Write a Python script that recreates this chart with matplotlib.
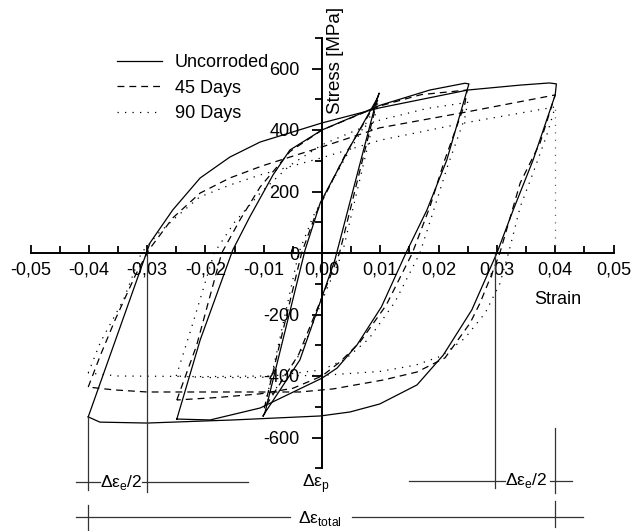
import matplotlib
matplotlib.use('Agg')
import matplotlib.pyplot as plt
from matplotlib.ticker import FixedLocator

plt.rcParams['font.family'] = ['Liberation Sans', 'DejaVu Sans']
plt.rcParams['axes.unicode_minus'] = False

# ---------------- data: (strain, stress[MPa]) ----------------
# Uncorroded
unc_big_strain = [-0.0401, -0.0348, -0.0295, -0.0256, -0.0209, -0.0158, -0.0106, 0.0, 0.0099, 0.025, 0.034, 0.039, 0.0402,
                  0.0400, 0.0362, 0.0328, 0.0300, 0.0257, 0.0208, 0.0163, 0.0099, 0.0048, -0.0003, -0.0153, -0.0300, -0.0381, -0.0401]
unc_big_stress = [-533, -250, 33, 140, 244, 312, 361, 423, 472, 530, 546, 553, 550,
                  514, 302, 140, 0, -185, -332, -429, -491, -517, -530, -543, -553, -550, -533]
unc_mid_strain = [-0.0249, -0.0209, -0.0153, -0.0124, -0.0084, -0.0055, 0.0, 0.0099, 0.0185, 0.0245, 0.0252,
                  0.0250, 0.0214, 0.0180, 0.0144, 0.0102, 0.0060, 0.0026, 0.0, -0.0106, -0.0192, -0.0249]
unc_mid_stress = [-540, -283, 10, 117, 254, 335, 400, 480, 530, 552, 550,
                  537, 302, 140, 0, -175, -299, -374, -407, -504, -543, -540]
unc_small_strain = [-0.0101, -0.0098, -0.0029, -0.0003, 0.0048, 0.0096, 0.0098,
                    0.0094, 0.0022, 0.0, -0.0038, -0.0098, -0.0101]
unc_small_stress = [-530, -520, 10, 163, 345, 507, 520,
                    500, -23, -143, -348, -520, -530]

# 45 Days
d45_big_strain = [-0.0401, -0.038, -0.0355, -0.032, -0.0297, -0.0256, -0.0209, -0.0158, -0.0103, -0.0055, 0.0, 0.0099, 0.0249, 0.0400,
                  0.0374, 0.0340, 0.0305, 0.0292, 0.0271, 0.0254, 0.0211, 0.0163, 0.0105, 0.0019, -0.0038, -0.0106, -0.030, -0.0358, -0.0401]
d45_big_stress = [-436, -332, -218, -72, 10, 114, 195, 244, 283, 312, 345, 407, 459, 514,
                  358, 228, 0, -65, -163, -228, -341, -387, -413, -442, -452, -452, -452, -445, -436]
d45_mid_strain = [-0.0249, -0.0215, -0.0172, -0.014, -0.0106, -0.0055, 0.0, 0.0099, 0.017, 0.0249,
                  0.0245, 0.021, 0.0185, 0.0155, 0.011, 0.0065, 0.0031, 0.0, -0.005, -0.0106, -0.018, -0.0249]
d45_mid_stress = [-478, -300, 0, 110, 215, 330, 400, 478, 515, 530,
                  485, 300, 150, 0, -170, -290, -354, -400, -440, -458, -470, -478]
d45_small_strain = [-0.0099, -0.0035, -0.001, 0.004, 0.0096, 0.0094, 0.003, 0.0005, -0.004, -0.0099]
d45_small_stress = [-505, 0, 130, 320, 500, 490, 0, -120, -330, -505]

# 90 Days
d90_big_strain = [-0.0401, -0.038, -0.034, -0.031, -0.028, -0.025, -0.021, -0.0158, -0.0106, 0.0, 0.01, 0.025, 0.040,
                  0.0385, 0.036, 0.034, 0.032, 0.0305, 0.028, 0.0245, 0.0205, 0.016, 0.01, 0.0, -0.02, -0.035, -0.0401]
d90_big_stress = [-390, -290, -150, 0, 65, 117, 182, 221, 254, 310, 367, 425, 475,
                  380, 250, 150, 0, -100, -195, -277, -335, -365, -385, -398, -402, -400, -390]
d90_mid_strain = [-0.025, -0.0225, -0.0185, -0.015, -0.0106, -0.0055, 0.0, 0.0099, 0.018, 0.025,
                  0.0245, 0.0215, 0.019, 0.0168, 0.0125, 0.008, 0.004, 0.0, -0.0106, -0.02, -0.025]
d90_mid_stress = [-400, -250, 0, 100, 195, 285, 352, 432, 470, 490,
                  440, 280, 130, 0, -160, -280, -345, -380, -405, -405, -400]
d90_small_strain = [-0.0097, -0.004, -0.0015, 0.004, 0.0097, 0.0095, 0.0035, 0.001, -0.0035, -0.0097]
d90_small_stress = [-490, 0, 120, 310, 490, 480, 0, -110, -320, -490]

ref_strain = [0.040, 0.040]
ref_stress = [0, 475]

series_labels = ['Uncorroded', '45 Days', '90 Days']
x_ticks = [-0.05, -0.04, -0.03, -0.02, -0.01, 0.0, 0.01, 0.02, 0.03, 0.04, 0.05]
x_minor = [-0.045, -0.035, -0.025, -0.015, -0.005, 0.005, 0.015, 0.025, 0.035, 0.045]
x_ticklabels = ['-0,05', '-0,04', '-0,03', '-0,02', '-0,01', '0,00', '0,01', '0,02', '0,03', '0,04', '0,05']
y_ticks = [-600, -400, -200, 0, 200, 400, 600]
y_minor = [-700, -500, -300, -100, 100, 300, 500, 700]
y_ticklabels = ['-600', '-400', '-200', '0', '200', '400', '600']

# ---------------- figure ----------------
W, H = 635, 531
fig = plt.figure(figsize=(W / 100, H / 100), dpi=100)
ax = fig.add_axes([0, 0, 1, 1])
ax.set_xlim(-322 / 5830, 313 / 5830)
ax.set_ylim((253 - 531) / 0.3075, 253 / 0.3075)
ax.patch.set_visible(False)

lw = 0.9
lk = dict(color='black', lw=lw, solid_joinstyle='round')
l1, = ax.plot(unc_big_strain, unc_big_stress, '-', **lk)
ax.plot(unc_mid_strain, unc_mid_stress, '-', **lk)
ax.plot(unc_small_strain, unc_small_stress, '-', **lk)
dash = (0, (5.5, 4))
l2, = ax.plot(d45_big_strain, d45_big_stress, linestyle=dash, **lk)
ax.plot(d45_mid_strain, d45_mid_stress, linestyle=dash, **lk)
ax.plot(d45_small_strain, d45_small_stress, linestyle=dash, **lk)
dot = (0, (1.0, 5.0))
l3, = ax.plot(d90_big_strain, d90_big_stress, linestyle=dot, **lk)
ax.plot(d90_mid_strain, d90_mid_stress, linestyle=dot, **lk)
ax.plot(d90_small_strain, d90_small_stress, linestyle=dot, **lk)
ax.plot(ref_strain, ref_stress, linestyle=dot, color='#666666', lw=lw)

# spines through the origin
for s in ['top', 'right']:
    ax.spines[s].set_visible(False)
ax.spines['left'].set_position(('data', 0))
ax.spines['bottom'].set_position(('data', 0))
ax.spines['left'].set_bounds(-700, 700)
ax.spines['bottom'].set_bounds(-0.05, 0.05)
ax.spines['left'].set_linewidth(1.4)
ax.spines['bottom'].set_linewidth(1.4)

ax.xaxis.set_major_locator(FixedLocator(x_ticks))
ax.set_xticklabels(x_ticklabels)
ax.xaxis.set_minor_locator(FixedLocator(x_minor))
ax.yaxis.set_major_locator(FixedLocator(y_ticks))
ax.set_yticklabels(y_ticklabels)
ax.yaxis.set_minor_locator(FixedLocator(y_minor))
ax.tick_params(axis='x', which='major', direction='in', length=6, width=1.3, labelsize=13, pad=6)
ax.tick_params(axis='x', which='minor', direction='in', length=5, width=1.3)
ax.tick_params(axis='y', which='major', direction='out', length=7, width=1.3, labelsize=13, pad=9)
ax.tick_params(axis='y', which='minor', direction='out', length=5, width=1.3)


def fx(px):
    return px / W


def fy(py):
    return 1 - py / H


fig.text(fx(336), fy(60), 'Stress [MPa]', rotation=90, ha='center', va='center', fontsize=13.5)
fig.text(fx(558), fy(300), 'Strain', ha='center', va='center', fontsize=13)

leg = ax.legend([l1, l2, l3], series_labels, loc='upper left', bbox_to_anchor=(fx(108), fy(45)),
                bbox_transform=fig.transFigure, frameon=False, fontsize=13,
                handlelength=2.5, handletextpad=0.7, labelspacing=0.48, borderpad=0)

# ---------------- strain range annotation ----------------
ann = dict(color='#333333', lw=0.9)


def sx(px):
    return (px - 322) / 5830


def sy(py):
    return (253 - py) / 0.3075


# vertical lines
ax.plot([sx(88), sx(88)], [sy(417), sy(490)], **ann)
ax.plot([sx(88), sx(88)], [sy(505), sy(531)], **ann)
ax.plot([sx(147), sx(147)], [sy(253), sy(492)], **ann)
ax.plot([sx(495), sx(495)], [sy(253), sy(488)], **ann)
ax.plot([sx(555), sx(555)], [sy(428), sy(493)], **ann)
ax.plot([sx(555), sx(555)], [sy(501), sy(527)], **ann)
# horizontal lines
ax.plot([sx(76), sx(100)], [sy(482), sy(482)], **ann)
ax.plot([sx(142), sx(248)], [sy(482), sy(482)], **ann)
ax.plot([sx(409), sx(505)], [sy(481), sy(481)], **ann)
ax.plot([sx(550), sx(572)], [sy(481), sy(481)], **ann)
ax.plot([sx(76), sx(290)], [sy(517), sy(517)], **ann)
ax.plot([sx(352), sx(583)], [sy(517), sy(517)], **ann)

tk = dict(fontsize=12.5, va='center')
fig.text(fx(100), fy(482), r'Δε$_\mathregular{e}$/2', ha='left', **tk)
fig.text(fx(505), fy(481), r'Δε$_\mathregular{e}$/2', ha='left', **tk)
fig.text(fx(302), fy(484), r'Δε$_\mathregular{p}$', ha='left', **tk)
fig.text(fx(298), fy(519), r'Δε$_\mathregular{total}$', ha='left', **tk)

fig.savefig('out.png', dpi=100)
